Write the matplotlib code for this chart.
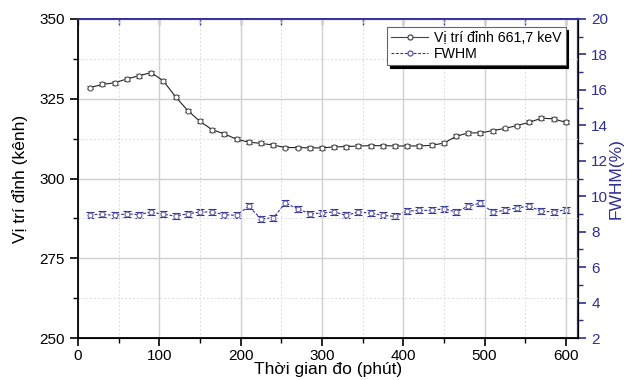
import matplotlib
matplotlib.use("Agg")
import matplotlib.pyplot as plt
from matplotlib.ticker import MultipleLocator
from matplotlib.lines import Line2D

plt.rcParams['font.family'] = ['Liberation Sans', 'DejaVu Sans']

time_min = [15, 30, 45, 60, 75, 90, 105, 120, 135, 150, 165, 180, 195, 210, 225, 240,
            255, 270, 285, 300, 315, 330, 345, 360, 375, 390, 405, 420, 435, 450, 465,
            480, 495, 510, 525, 540, 555, 570, 585, 600]
peak_channel = [328.5, 329.5, 330.0, 331.2, 332.2, 333.2, 330.6, 325.6, 321.3, 317.9,
                315.3, 314.0, 312.3, 311.4, 311.0, 310.5, 309.7, 309.7, 309.6, 309.6,
                309.9, 310.0, 310.2, 310.3, 310.3, 310.2, 310.2, 310.2, 310.4, 311.1,
                313.2, 314.3, 314.3, 315.0, 315.7, 316.6, 317.6, 318.9, 318.7, 317.6]
peak_err = [0.6] * 40
fwhm = [8.96, 8.98, 8.92, 9.01, 8.96, 9.11, 8.98, 8.88, 9.01, 9.11,
        9.11, 8.96, 8.92, 9.43, 8.73, 8.77, 9.61, 9.30, 9.01, 9.05,
        9.12, 8.92, 9.11, 9.05, 8.92, 8.86, 9.16, 9.20, 9.20, 9.30,
        9.11, 9.44, 9.61, 9.11, 9.20, 9.35, 9.43, 9.16, 9.11, 9.24]
fwhm_err = [0.17] * 40

label_peak = "Vị trí đỉnh 661,7 keV"
label_fwhm = "FWHM"
xlabel = "Thời gian đo (phút)"
ylabel_left = "Vị trí đỉnh (kênh)"
ylabel_right = "FWHM(%)"

navy = '#2e2e96'

fig = plt.figure(figsize=(6.35, 3.8), dpi=100)
ax = fig.add_axes([78/635, (380-338)/380, (578-78)/635, (338-19)/380])
ax2 = ax.twinx()

ax.set_axisbelow(True)
ax.xaxis.set_major_locator(MultipleLocator(100))
ax.xaxis.set_minor_locator(MultipleLocator(50))
ax.yaxis.set_major_locator(MultipleLocator(25))
ax.yaxis.set_minor_locator(MultipleLocator(12.5))
ax.grid(which='major', color='#cfcfcf', linewidth=1.0, linestyle='-')
ax.grid(which='minor', color='#dcdcdc', linewidth=0.7, linestyle=(0, (2, 2)))

ax.errorbar(time_min, peak_channel, yerr=peak_err, color='#222222', lw=0.8,
            marker='o', ms=3.6, mfc='white', mec='#555555', mew=0.8,
            ecolor='#222222', elinewidth=0.8, capsize=2, capthick=0.8, zorder=3)
ax2.errorbar(time_min, fwhm, yerr=fwhm_err, color=navy, lw=0.8, ls=(0, (2.5, 1.5)),
             marker='o', ms=3.6, mfc='white', mec='#6060aa', mew=0.8,
             ecolor=navy, elinewidth=0.8, capsize=2.8, capthick=0.8, zorder=3)

ax.set_xlim(0, 615)
ax.set_ylim(250, 350)
ax2.set_ylim(2, 20)
ax2.yaxis.set_major_locator(MultipleLocator(2))
ax2.yaxis.set_minor_locator(MultipleLocator(1))

ax.tick_params(axis='both', which='major', direction='out', length=6, width=1.2,
               labelsize=11, colors='black')
ax.tick_params(axis='x', which='major', pad=2)
ax.tick_params(axis='both', which='minor', direction='out', length=3.5, width=1.0)

ax2.tick_params(axis='y', which='major', direction='out', length=6, width=1.2,
                labelsize=11, colors=navy)
ax2.tick_params(axis='y', which='minor', direction='out', length=3.5, width=1.0, colors=navy)

for s in ['left', 'bottom']:
    ax.spines[s].set_linewidth(1.3)
    ax.spines[s].set_color('black')
ax.spines['top'].set_color(navy)
ax.spines['top'].set_linewidth(1.3)
ax2.spines['right'].set_color(navy)
ax2.spines['right'].set_linewidth(1.6)
ax2.spines['top'].set_color(navy)
ax2.spines['top'].set_linewidth(1.3)
ax2.spines['left'].set_visible(False)

secx = ax.secondary_xaxis('top')
secx.xaxis.set_major_locator(MultipleLocator(100))
secx.xaxis.set_minor_locator(MultipleLocator(50))
secx.tick_params(which='both', direction='in', length=4, width=1.0, colors=navy,
                 labeltop=False)
secx.spines['top'].set_color(navy)

ax.set_xlabel(xlabel, fontsize=12.5, labelpad=-1)
ax.set_ylabel(ylabel_left, fontsize=12.5, labelpad=8)
ax2.set_ylabel(ylabel_right, fontsize=12.5, color=navy, labelpad=0)

h1 = Line2D([], [], color='#444444', lw=0.8, marker='o', ms=3.6, mfc='white', mec='#555555')
h2 = Line2D([], [], color=navy, lw=0.8, ls=(0, (2.5, 1.5)), marker='o', ms=3.6,
            mfc='white', mec='#6060aa')
leg = ax.legend([h1, h2], [label_peak, label_fwhm], loc='upper right',
                bbox_to_anchor=(0.975, 0.975), fontsize=10.2, frameon=True,
                fancybox=False, shadow={'color': 'black', 'alpha': 1},
                borderpad=0.3, labelspacing=0.1, handlelength=2.6,
                handletextpad=0.4, borderaxespad=0)
leg.get_frame().set_edgecolor('#666666')
leg.get_frame().set_linewidth(0.8)
leg.set_zorder(10)
ax.set_zorder(ax2.get_zorder() + 1)
ax.patch.set_visible(False)

fig.savefig('out.png', dpi=100)
